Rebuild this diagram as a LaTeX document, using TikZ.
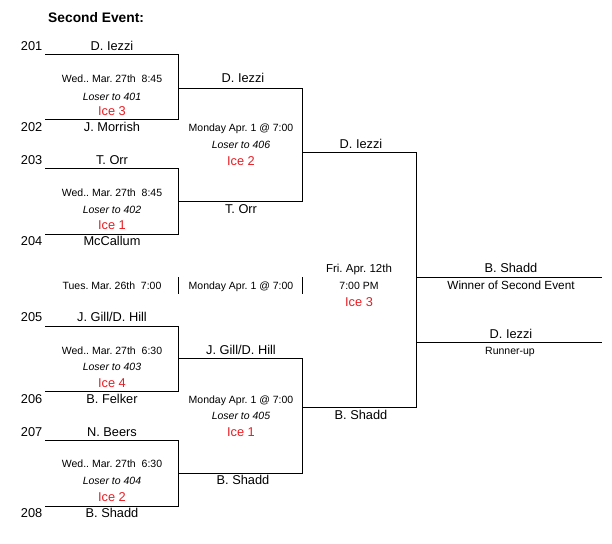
\documentclass[tikz,border=0pt]{standalone}
\usepackage{fontspec}
\setmainfont{Liberation Sans}
\frenchspacing
\definecolor{icered}{RGB}{230,30,36}
\tikzset{
  namelbl/.style={font=\fontsize{12.8}{14}\selectfont, anchor=base, inner sep=0pt},
  numlbl/.style={font=\fontsize{12.8}{14}\selectfont, anchor=base east, inner sep=0pt},
  infolbl/.style={font=\fontsize{10.5}{12}\selectfont, anchor=base, inner sep=0pt},
  loserlbl/.style={font=\fontsize{10.5}{12}\selectfont\itshape, anchor=base, inner sep=0pt},
  icelbl/.style={font=\fontsize{12.8}{14}\selectfont, anchor=base, inner sep=0pt, text=icered},
  brk/.style={line width=0.8pt, black},
}
\begin{document}
\begin{tikzpicture}[x=1pt,y=-1pt]
\useasboundingbox (0,0) rectangle (612,543);
% title
\node[font=\fontsize{13.8}{15}\selectfont\bfseries, anchor=base west, inner sep=0pt] (title) at (48,22.7) {Second Event:};

% ---------- coordinates ----------
\foreach \n/\y in {201/54,202/119,203/168,204/234,205/326,206/391,207/440,208/506}{
  \coordinate (l\n) at (45,\y);
  \coordinate (r\n) at (178,\y);
}
\coordinate (qa1) at (178,88);  \coordinate (qa2) at (302,88);
\coordinate (qb1) at (178,201); \coordinate (qb2) at (302,201);
\coordinate (qc1) at (178,358); \coordinate (qc2) at (302,358);
\coordinate (qd1) at (178,473); \coordinate (qd2) at (302,473);
\coordinate (sa1) at (302,152); \coordinate (sa2) at (416,152);
\coordinate (sb1) at (302,407); \coordinate (sb2) at (416,407);
\coordinate (fa1) at (416,277); \coordinate (fa2) at (602,277);
\coordinate (fb1) at (416,342); \coordinate (fb2) at (602,342);
\coordinate (t1a) at (178,277); \coordinate (t1b) at (178,294);
\coordinate (t2a) at (302,277); \coordinate (t2b) at (302,294);

% ---------- brackets ----------
\draw[brk] (l201) -- (r201) -- (r202) -- (l202);
\draw[brk] (l203) -- (r203) -- (r204) -- (l204);
\draw[brk] (l205) -- (r205) -- (r206) -- (l206);
\draw[brk] (l207) -- (r207) -- (r208) -- (l208);
\draw[brk] (qa1) -- (qa2) -- (qb2) -- (qb1);
\draw[brk] (qc1) -- (qc2) -- (qd2) -- (qd1);
\draw[brk] (sa1) -- (sa2) -- (sb2) -- (sb1);
\draw[brk] (fa1) -- (fa2);
\draw[brk] (fb1) -- (fb2);
\draw[brk] (t1a) -- (t1b);
\draw[brk] (t2a) -- (t2b);

% ---------- seed numbers ----------
\node[numlbl] (n201) at (42.5,50.8) {201};
\node[numlbl] (n202) at (42.5,131.6) {202};
\node[numlbl] (n203) at (42.5,164.6) {203};
\node[numlbl] (n204) at (42.5,245.6) {204};
\node[numlbl] (n205) at (42.5,321.6) {205};
\node[numlbl] (n206) at (42.5,403.6) {206};
\node[numlbl] (n207) at (42.5,436.6) {207};
\node[numlbl] (n208) at (42.5,517.6) {208};

% ---------- round 1 names ----------
\node[namelbl] (p201) at (112,50.8) {D. Iezzi};
\node[namelbl] (p202) at (112,131.6) {J. Morrish};
\node[namelbl] (p203) at (112,164.6) {T. Orr};
\node[namelbl] (p204) at (112,245.6) {McCallum};
\node[namelbl] (p205) at (112,321.6) {J. Gill/D. Hill};
\node[namelbl] (p206) at (112,403.6) {B. Felker};
\node[namelbl] (p207) at (112,436.6) {N. Beers};
\node[namelbl] (p208) at (112,517.6) {B. Shadd};

% ---------- round 1 match info ----------
\node[infolbl] (m1d) at (112,82.8) {Wed.. Mar. 27th\ \ 8:45};
\node[loserlbl] (m1l) at (112,100.8) {Loser to 401};
\node[icelbl] (m1i) at (112,115.6) {Ice 3};
\node[infolbl] (m2d) at (112,196.8) {Wed.. Mar. 27th\ \ 8:45};
\node[loserlbl] (m2l) at (112,213.8) {Loser to 402};
\node[icelbl] (m2i) at (112,229.6) {Ice 1};
\node[infolbl] (m3d) at (112,354.8) {Wed.. Mar. 27th\ \ 6:30};
\node[loserlbl] (m3l) at (112,370.8) {Loser to 403};
\node[icelbl] (m3i) at (112,387.6) {Ice 4};
\node[infolbl] (m4d) at (112,467.8) {Wed.. Mar. 27th\ \ 6:30};
\node[loserlbl] (m4l) at (112,484.8) {Loser to 404};
\node[icelbl] (m4i) at (112,501.6) {Ice 2};

% separators row
\node[infolbl] (sep1) at (112,289.8) {Tues. Mar. 26th\ \ 7:00};
\node[infolbl] (sep2) at (241,289.8) {Monday Apr. 1 @ 7:00};

% ---------- round 2 ----------
\node[namelbl] (w1) at (243,82.6) {D. Iezzi};
\node[infolbl] (m5d) at (241,131.8) {Monday Apr. 1 @ 7:00};
\node[loserlbl] (m5l) at (241,148.8) {Loser to 406};
\node[icelbl] (m5i) at (241,165.6) {Ice 2};
\node[namelbl] (w2) at (241,213.6) {T. Orr};
\node[namelbl] (w3) at (241,354.6) {J. Gill/D. Hill};
\node[infolbl] (m6d) at (241,403.8) {Monday Apr. 1 @ 7:00};
\node[loserlbl] (m6l) at (241,419.8) {Loser to 405};
\node[icelbl] (m6i) at (241,436.6) {Ice 1};
\node[namelbl] (w4) at (243,484.6) {B. Shadd};

% ---------- round 3 ----------
\node[namelbl] (x1) at (361,148.6) {D. Iezzi};
\node[font=\fontsize{11.5}{13}\selectfont, anchor=base, inner sep=0pt] (m7d) at (359,272.1) {Fri. Apr. 12th};
\node[infolbl] (m7t) at (359,289.8) {7:00 PM};
\node[icelbl] (m7i) at (359,306.6) {Ice 3};
\node[namelbl] (x2) at (361,419.6) {B. Shadd};

% ---------- final ----------
\node[namelbl] (champ) at (511,272.6) {B. Shadd};
\node[font=\fontsize{11.8}{13}\selectfont, anchor=base, inner sep=0pt] (champl) at (511,289.2) {Winner of Second Event};
\node[namelbl] (runner) at (511,338.6) {D. Iezzi};
\node[infolbl] (runnerl) at (510,354.8) {Runner-up};
\end{tikzpicture}
\end{document}
